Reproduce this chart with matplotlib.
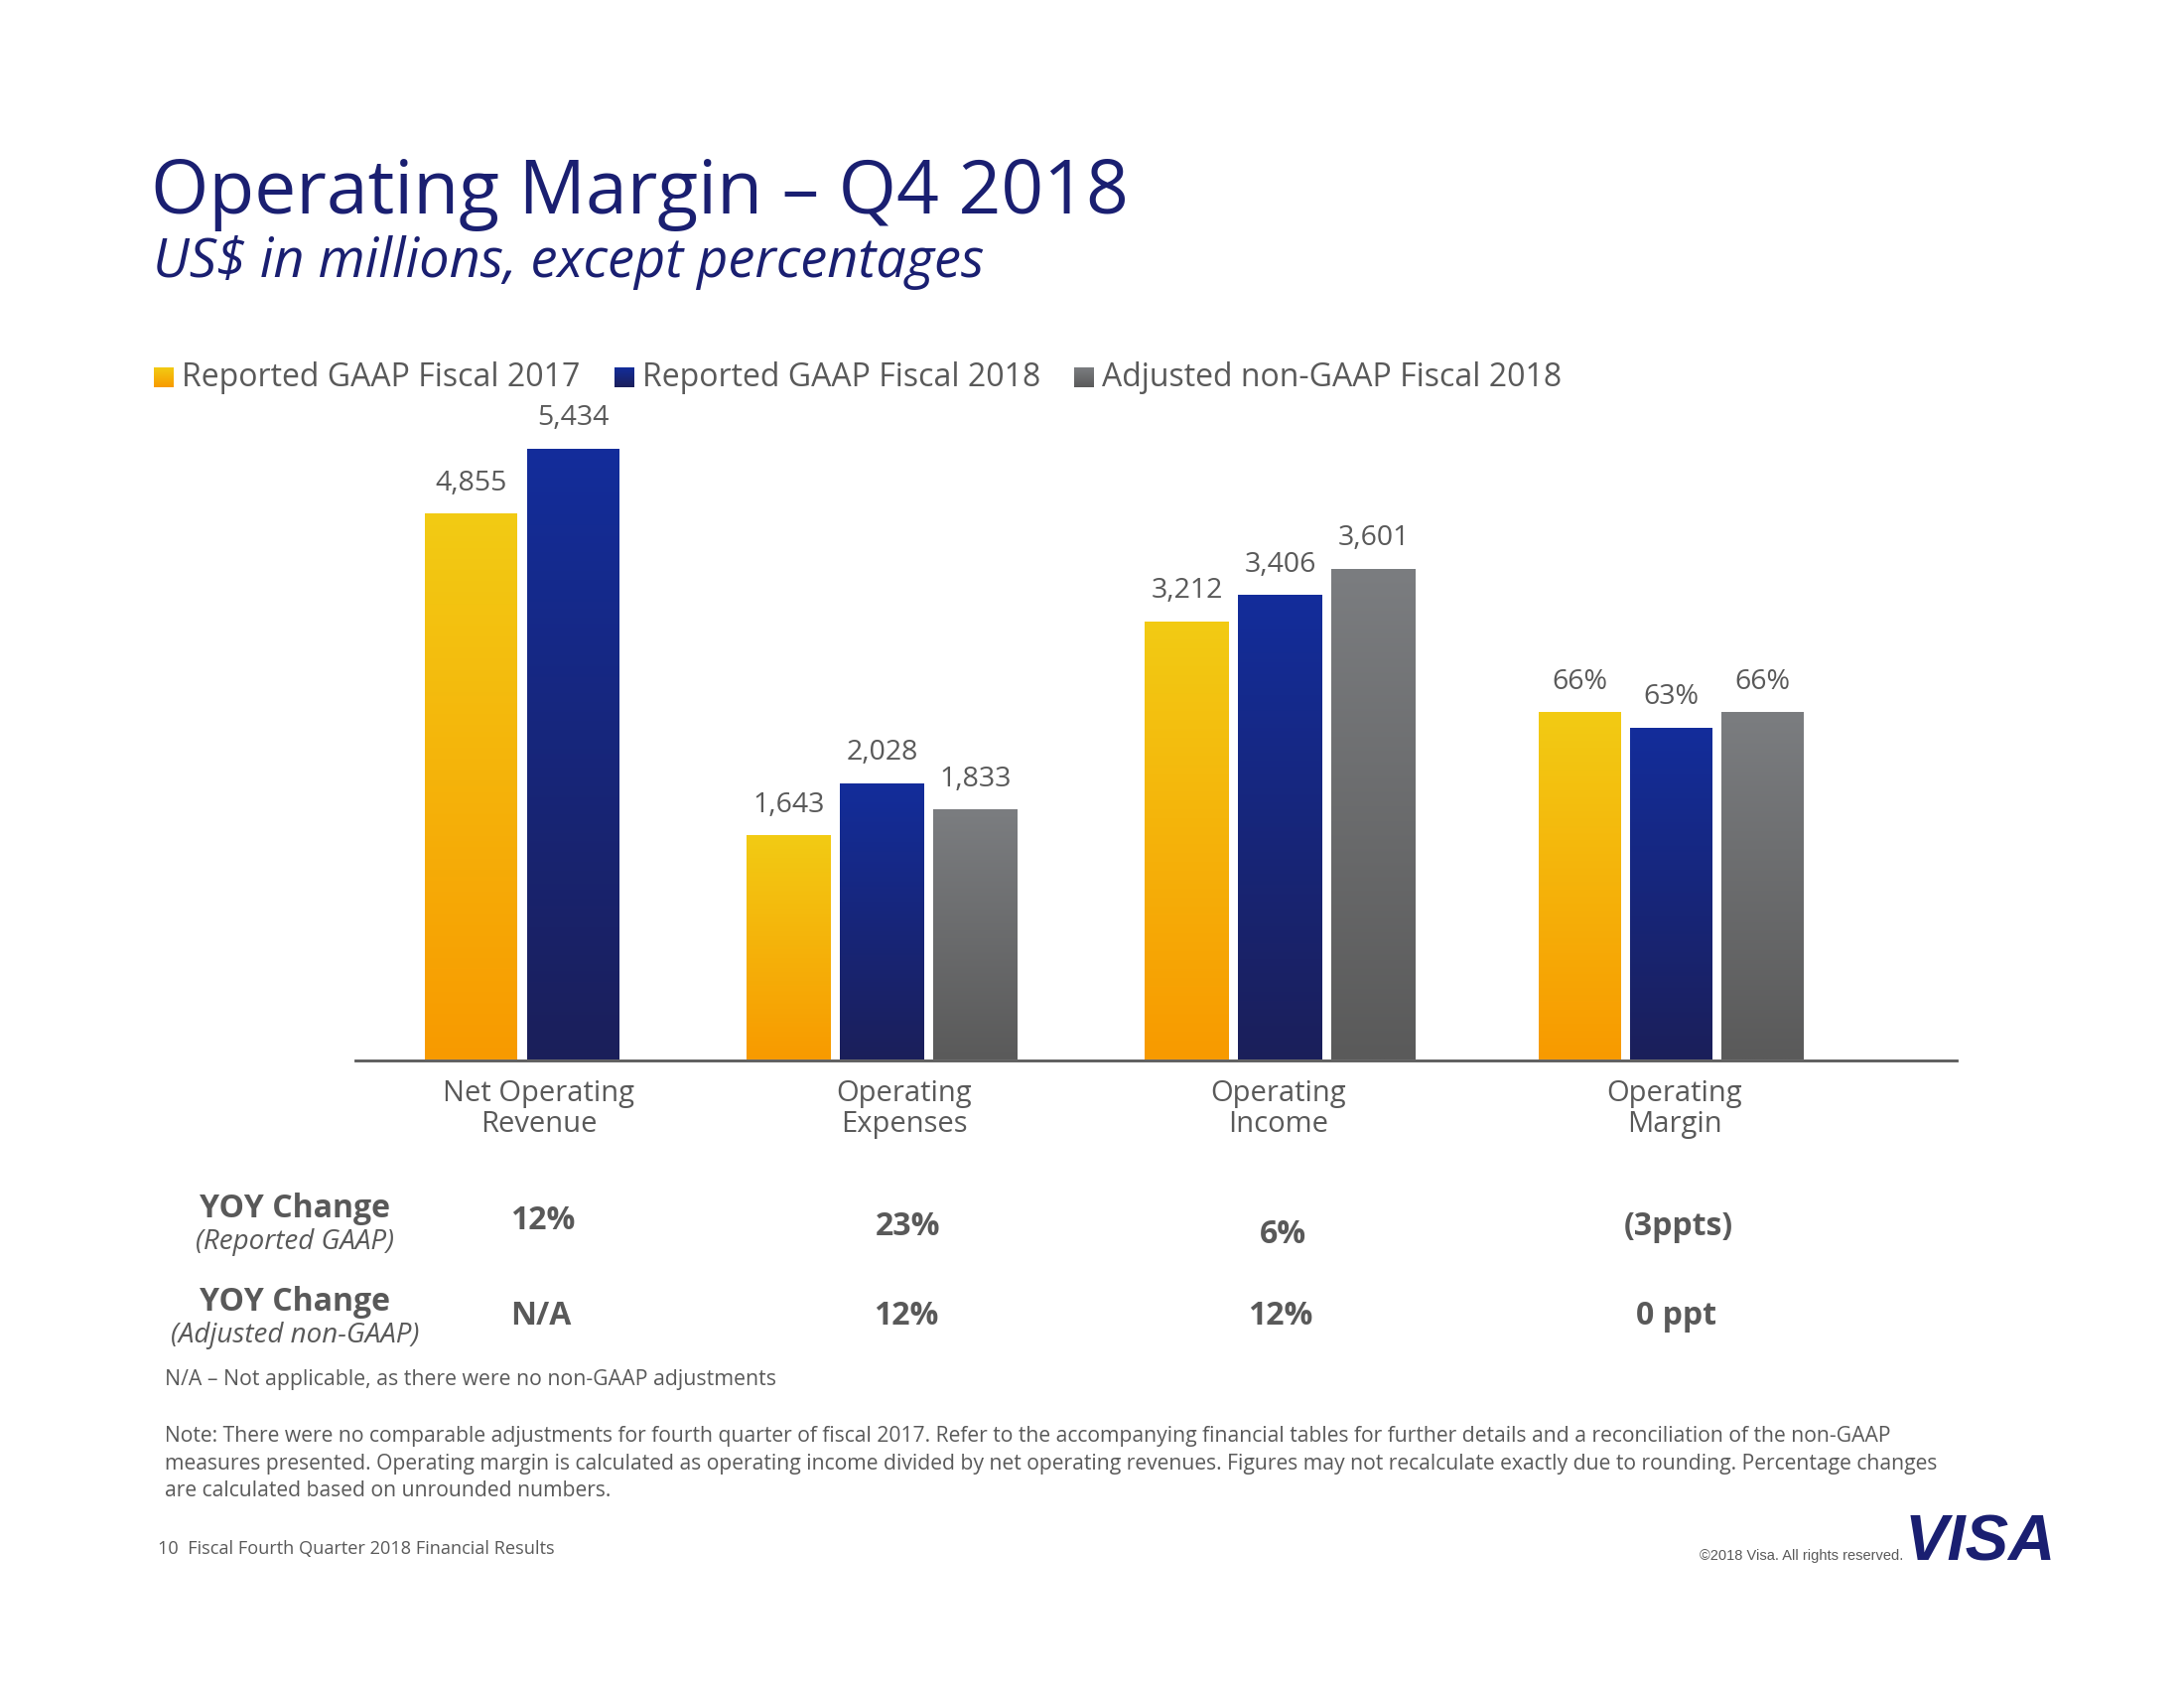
import numpy as np
import matplotlib
matplotlib.use("Agg")
import matplotlib.pyplot as plt
from matplotlib.colors import to_rgb

plt.rcParams['font.family'] = ['Open Sans', 'DejaVu Sans']

# data
categories = ['Net Operating\nRevenue', 'Operating\nExpenses', 'Operating\nIncome', 'Operating\nMargin']
series = ['Reported GAAP Fiscal 2017', 'Reported GAAP Fiscal 2018', 'Adjusted non-GAAP Fiscal 2018']
values = [
    [4855, 5434],          # net operating revenue (no non-GAAP bar)
    [1643, 2028, 1833],    # operating expenses
    [3212, 3406, 3601],    # operating income
    [66, 63, 66],          # operating margin (%)
]
value_labels = [
    ['4,855', '5,434'],
    ['1,643', '2,028', '1,833'],
    ['3,212', '3,406', '3,601'],
    ['66%', '63%', '66%'],
]
yoy_reported = ['12%', '23%', '6%', '(3ppts)']
yoy_adjusted = ['N/A', '12%', '12%', '0 ppt']

# colours: (top, bottom) of each gradient
grads = [('#F2CB14', '#F89A00'), ('#132D9B', '#1B1F5A'), ('#7B7D80', '#5A5A5A')]
NAVY = '#1A1F71'
GREY = '#595959'

W, H = 2200, 1700
fig = plt.figure(figsize=(22, 17), dpi=100)
base = fig.add_axes([0, 0, 1, 1])


def grad_img(top, bottom, n=256):
    t = np.linspace(0, 1, n)[:, None, None]
    return (1 - t) * np.array(to_rgb(top)) + t * np.array(to_rgb(bottom))


# bar layout in pixels (left of first bar, bar width, pitch) and axis top per group
base_y, top_y = 1067, 400
group_left = [428, 752, 1153, 1550]
bar_w = [93, 85, 85, 83]
pitch = [103, 94, 94, 92]
ymax = [5893, 4858, 4858, 125.8]
label_x = [543, 911, 1288, 1687]

for g in range(4):
    ax = fig.add_axes([0, 1 - base_y / H, 1, (base_y - top_y) / H])
    ax.set_xlim(0, W)
    ax.set_ylim(0, ymax[g])
    ax.axis('off')
    for j, v in enumerate(values[g]):
        x = group_left[g] + j * pitch[g]
        rect = ax.bar(x, v, width=bar_w[g], align='edge', color='none', lw=0)[0]
        im = ax.imshow(grad_img(*grads[j]), extent=(x, x + bar_w[g], 0, v),
                       aspect='auto', origin='upper', interpolation='bilinear')
        im.set_clip_path(rect)
        ax.annotate(value_labels[g][j], (x + bar_w[g] / 2, v), xytext=(0, 22),
                    textcoords='offset points', ha='center', va='center',
                    fontsize=20.5, color=GREY)
    ax.set_xlim(0, W)
    ax.set_ylim(0, ymax[g])

# base layer in pixel coords
base.set_xlim(0, W)
base.set_ylim(H, 0)
base.axis('off')

base.plot([358, 1971], [base_y + 1, base_y + 1], color=GREY, lw=2)

for g, cat in enumerate(categories):
    base.text(label_x[g], 1117, cat, ha='center', va='center', fontsize=21,
              color=GREY, linespacing=1.1)

# title
base.text(152, 195, 'Operating Margin – Q4 2018', fontsize=54, color=NAVY,
          ha='left', va='center')
base.text(154, 264, 'US$ in millions, except percentages', fontsize=39,
          color=NAVY, style='italic', ha='left', va='center')

# legend
leg_x = [155, 619, 1082]
for j, name in enumerate(series):
    base.imshow(grad_img(*grads[j]), extent=(leg_x[j], leg_x[j] + 20, 390, 370),
                aspect='auto', origin='upper')
    base.text(leg_x[j] + 28, 380, name, fontsize=23, color=GREY, ha='left', va='center')
base.set_xlim(0, W)
base.set_ylim(H, 0)

# YOY table
base.text(297, 1217, 'YOY Change', fontsize=23, fontweight='bold', color=GREY,
          ha='center', va='center')
base.text(297, 1251, '(Reported GAAP)', fontsize=20, style='italic', color=GREY,
          ha='center', va='center')
base.text(297, 1311, 'YOY Change', fontsize=23, fontweight='bold', color=GREY,
          ha='center', va='center')
base.text(297, 1345, '(Adjusted non-GAAP)', fontsize=20, style='italic', color=GREY,
          ha='center', va='center')
row1_y = [1229, 1236, 1243, 1236]
for g in range(4):
    base.text(label_x[g] + 4, row1_y[g], yoy_reported[g], fontsize=23,
              fontweight='bold', color=GREY, ha='center', va='center')
    base.text(label_x[g] + 2, 1325, yoy_adjusted[g], fontsize=23,
              fontweight='bold', color=GREY, ha='center', va='center')

base.text(166, 1389, 'N/A – Not applicable, as there were no non-GAAP adjustments',
          fontsize=15.3, color=GREY, ha='left', va='center')

note = ('Note: There were no comparable adjustments for fourth quarter of fiscal 2017. '
        'Refer to the accompanying financial tables for further details and a reconciliation of the non-GAAP\n'
        'measures presented. Operating margin is calculated as operating income divided by net operating '
        'revenues. Figures may not recalculate exactly due to rounding. Percentage changes\n'
        'are calculated based on unrounded numbers.')
base.text(166, 1436, note, fontsize=15.2, color=GREY, ha='left', va='top',
          linespacing=1.42)

base.text(159, 1560, '10  Fiscal Fourth Quarter 2018 Financial Results', fontsize=13.1,
          color=GREY, ha='left', va='center')
base.text(1917, 1567, '©2018 Visa. All rights reserved.', fontsize=10.5,
          family='Liberation Sans', color=GREY, ha='right', va='center')
base.text(2071, 1555, 'VISA', fontsize=47, family='Liberation Sans',
          fontweight='bold', style='italic', color=NAVY, ha='right', va='center')

fig.savefig('out.png', dpi=100, facecolor='white')
